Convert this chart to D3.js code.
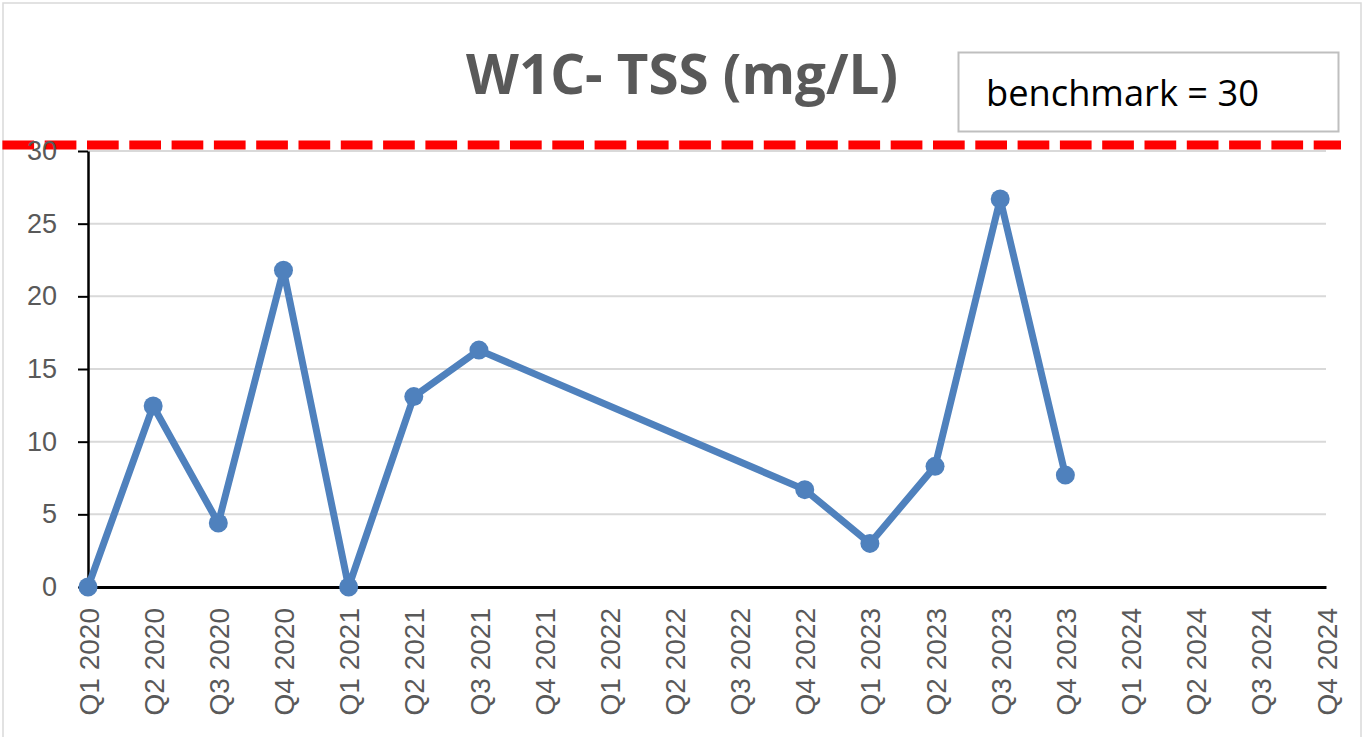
<!DOCTYPE html>
<html>
<head>
<meta charset="utf-8">
<script src="https://cdn.jsdelivr.net/npm/d3@7"></script>
<style>
  html, body { margin: 0; padding: 0; background: #ffffff; }
  svg { display: block; }
</style>
</head>
<body>
<svg id="chart" width="1362" height="737"></svg>
<script>
// Quarterly sampling periods shown on the x axis
const quarters = [
  "Q1 2020", "Q2 2020", "Q3 2020", "Q4 2020",
  "Q1 2021", "Q2 2021", "Q3 2021", "Q4 2021",
  "Q1 2022", "Q2 2022", "Q3 2022", "Q4 2022",
  "Q1 2023", "Q2 2023", "Q3 2023", "Q4 2023",
  "Q1 2024", "Q2 2024", "Q3 2024", "Q4 2024"
];
// Measured TSS (mg/L); null where no sample was taken
const tssValues = [
  0, 12.45, 4.4, 21.8,
  0, 13.1, 16.3, null,
  null, null, null, 6.7,
  3.0, 8.3, 26.7, 7.7,
  null, null, null, null
];
const yTicks = [0, 5, 10, 15, 20, 25, 30];
const benchmark = 30;
const chartTitle = "W1C- TSS (mg/L)";
const benchmarkLabel = "benchmark = " + benchmark;

const svg = d3.select("#chart");
const W = 1362, H = 737;
const plot = { left: 88, right: 1326, top: 151, bottom: 587 };

const x = d3.scalePoint().domain(quarters).range([plot.left, plot.right]);
const y = d3.scaleLinear().domain([0, 30]).range([plot.bottom, plot.top]);

// Outer chart frame
svg.append("rect")
  .attr("x", 3).attr("y", 3).attr("width", W - 4).attr("height", H + 20)
  .attr("fill", "#ffffff").attr("stroke", "#d9d9d9").attr("stroke-width", 1.5);

// Horizontal gridlines
svg.append("g")
  .selectAll("line")
  .data(yTicks.filter(d => d > 0))
  .join("line")
  .attr("x1", plot.left).attr("x2", plot.right)
  .attr("y1", d => y(d)).attr("y2", d => y(d))
  .attr("stroke", "#d9d9d9").attr("stroke-width", 2);

// Scale a text node so its rendered width matches a target width
function fitWidth(sel, target) {
  const node = sel.node();
  const fs = parseFloat(sel.attr("font-size"));
  const w = node.getComputedTextLength();
  sel.attr("font-size", (fs * target / w).toFixed(2));
}

// Title
const title = svg.append("text")
  .attr("x", 682).attr("y", 94)
  .attr("text-anchor", "middle")
  .attr("font-family", "'Open Sans', 'Liberation Sans', sans-serif")
  .attr("font-weight", "bold")
  .attr("font-size", 50)
  .attr("fill", "#595959")
  .text(chartTitle);
fitWidth(title, 432);

// Benchmark note box
svg.append("rect")
  .attr("x", 958.5).attr("y", 52.5).attr("width", 380).attr("height", 79)
  .attr("fill", "#ffffff").attr("stroke", "#bfbfbf").attr("stroke-width", 2);
const note = svg.append("text")
  .attr("x", 986).attr("y", 106)
  .attr("font-family", "'Open Sans', 'Liberation Sans', sans-serif")
  .attr("font-size", 30)
  .attr("fill", "#000000")
  .text(benchmarkLabel);
fitWidth(note, 273);

// Benchmark dashed line
svg.append("line")
  .attr("x1", 2.4).attr("x2", 1341)
  .attr("y1", y(benchmark) - 6).attr("y2", y(benchmark) - 6)
  .attr("stroke", "#ff0000").attr("stroke-width", 9)
  .attr("stroke-dasharray", "31.7,10.6");

// Y axis
const yAxis = svg.append("g")
  .attr("transform", `translate(${plot.left},0)`)
  .call(d3.axisLeft(y).tickValues(yTicks).tickSize(10).tickPadding(20).tickSizeOuter(0));
yAxis.select(".domain").attr("stroke", "#000").attr("stroke-width", 2.5);
yAxis.selectAll(".tick line").attr("stroke", "#000").attr("stroke-width", 2);
yAxis.selectAll(".tick text")
  .attr("font-family", "'Liberation Sans', Arial, sans-serif")
  .attr("font-size", 27)
  .attr("fill", "#595959")
  .attr("x", -31);

// X axis
const xAxis = svg.append("g")
  .attr("transform", `translate(0,${plot.bottom})`)
  .call(d3.axisBottom(x).tickSize(0).tickSizeOuter(0));
xAxis.select(".domain").attr("stroke", "#000").attr("stroke-width", 3);
xAxis.selectAll(".tick text")
  .attr("font-family", "'Liberation Sans', Arial, sans-serif")
  .attr("font-size", 28)
  .attr("fill", "#595959")
  .attr("text-anchor", "end")
  .attr("transform", "translate(0,21) rotate(-90)")
  .attr("x", 0).attr("y", 0)
  .attr("dy", "0.36em");

// TSS series: connect across missing quarters
const points = quarters
  .map((q, i) => ({ q, v: tssValues[i] }))
  .filter(d => d.v !== null);

svg.append("path")
  .datum(points)
  .attr("fill", "none")
  .attr("stroke", "#4f81bd")
  .attr("stroke-width", 7)
  .attr("stroke-linejoin", "round")
  .attr("d", d3.line().x(d => x(d.q)).y(d => y(d.v)));

svg.append("g")
  .selectAll("circle")
  .data(points)
  .join("circle")
  .attr("cx", d => x(d.q))
  .attr("cy", d => y(d.v))
  .attr("r", 9.5)
  .attr("fill", "#4f81bd");
</script>
</body>
</html>
